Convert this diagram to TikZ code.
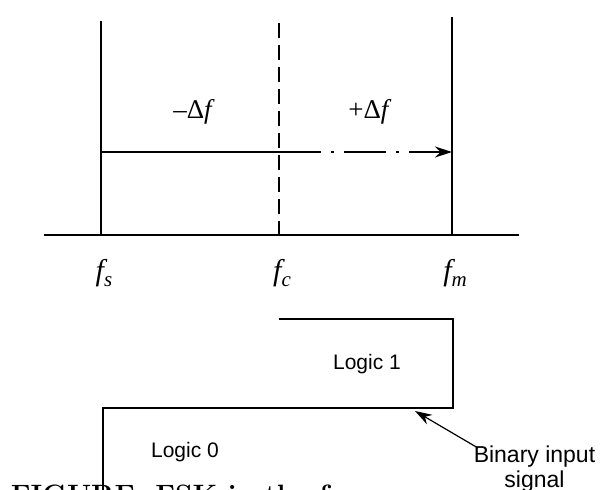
\documentclass[tikz,border=0pt]{standalone}
\usepackage{fontspec}
\newfontfamily\tms{Liberation Serif}
\newfontfamily\lsans{Liberation Sans}
\usetikzlibrary{arrows.meta}
\begin{document}
\begin{tikzpicture}[x=1pt,y=-1pt,line width=1.5pt,
  sanslbl/.style={font=\lsans\fontsize{21}{25}\selectfont,inner sep=0pt},
  binlbl/.style={font=\lsans\fontsize{23}{25}\selectfont,inner sep=0pt,align=center},
  freqlbl/.style={font=\tms\itshape\fontsize{30}{32}\selectfont,inner sep=0pt,anchor=base},
  dflbl/.style={font=\tms\fontsize{27}{29}\selectfont,inner sep=0pt},
  tip/.style={-{Stealth[length=17pt,width=11pt]}},
  captxt/.style={font=\bfseries\fontsize{28}{30}\selectfont,inner sep=0pt,anchor=base west}]
\useasboundingbox (0,0) rectangle (600,490);
\fill[white] (0,0) rectangle (600,490);
% frequency axis and lines
\coordinate (axL) at (44,235);
\coordinate (axR) at (519,235);
\coordinate (sT) at (101,21);  \coordinate (sB) at (101,235);
\coordinate (cT) at (279,23);  \coordinate (cB) at (279,235);
\coordinate (mT) at (452,17);  \coordinate (mB) at (452,235);
\draw (axL) -- (axR);
\draw (sT) -- (sB);
\draw (mT) -- (mB);
\draw[dash pattern=on 15pt off 7pt] (cT) -- (cB);
% shift arrow
\coordinate (aS) at (101,152);
\coordinate (aC) at (279,152);
\coordinate (aE) at (452,152);
\draw (aS) -- (aC);
\draw[tip,dash pattern=on 42pt off 10pt on 3pt off 10pt] (aC) -- (aE);
% labels
\node[dflbl] (mdf) at (194,112) {–Δ\textit{f}};
\node[dflbl] (pdf) at (370,112) {+Δ\textit{f}};
\node[freqlbl] (fs) at (104,280) {f\raisebox{-0.22em}{\fontsize{21}{21}\selectfont s}};
\node[freqlbl] (fc) at (282,280) {f\raisebox{-0.22em}{\fontsize{21}{21}\selectfont c}};
\node[freqlbl] (fm) at (455,280) {f\raisebox{-0.22em}{\fontsize{21}{21}\selectfont m}};
% binary signal
\coordinate (b1) at (279,319);
\coordinate (b2) at (453,319);
\coordinate (b3) at (453,408);
\coordinate (b4) at (103,408);
\coordinate (b5) at (103,492);
\draw (b1) -- (b2) -- (b3) -- (b4) -- (b5);
\node[sanslbl] (l1) at (367,364) {Logic 1};
\node[sanslbl] (l0) at (185,452) {Logic 0};
% caption (cut off by the frame)
\begin{scope}
\clip (0,0) rectangle (600,490);
\node[captxt] (cap) at (10,504) {FIGURE\hspace{20pt}FSK in the frequency domain};
\end{scope}
\node[binlbl,fill=white,inner sep=1pt,anchor=north west] (bin) at (472,444) {Binary input\\signal};
\coordinate (arrtip) at (415,411);
\draw[tip,line width=1.2pt] ([shift={(6pt,-4pt)}]bin.north west) -- (arrtip);
\end{tikzpicture}
\end{document}
